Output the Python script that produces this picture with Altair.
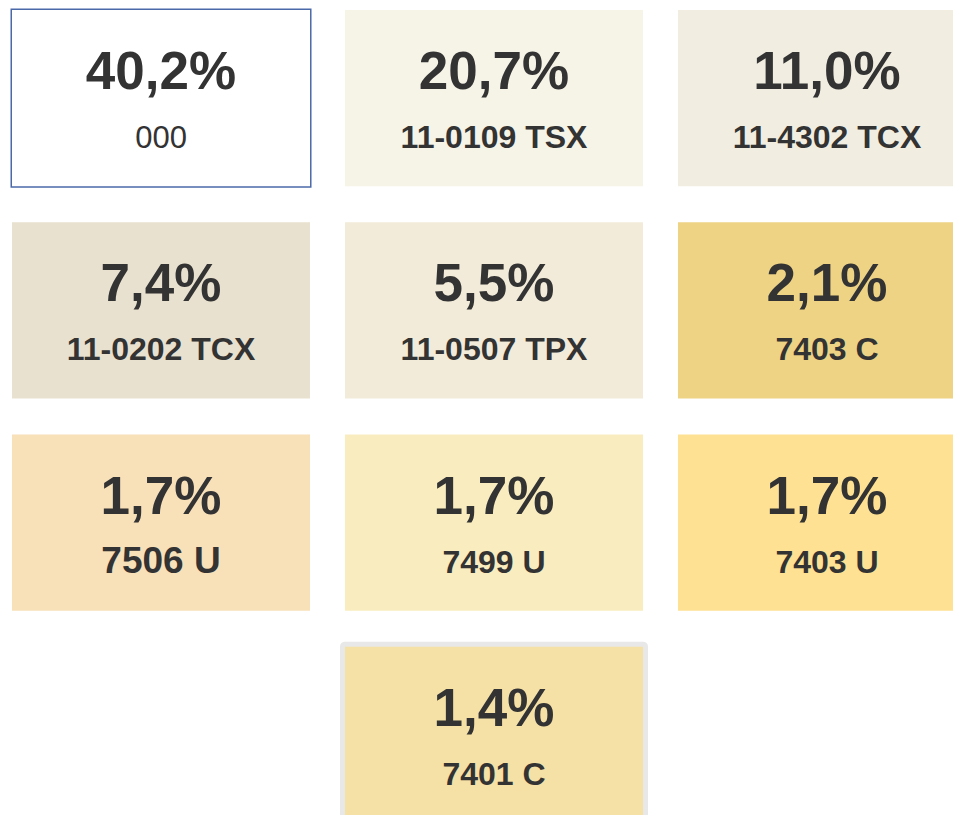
import altair as alt
import pandas as pd

shares = [40.2, 20.7, 11.0, 7.4, 5.5, 2.1, 1.7, 1.7, 1.7, 1.4]
codes = ["000", "11-0109 TSX", "11-4302 TCX", "11-0202 TCX", "11-0507 TPX",
         "7403 C", "7506 U", "7499 U", "7403 U", "7401 C"]
fills = ["#ffffff", "#f6f3e7", "#f1eee1", "#e9e1cf", "#f2ebd9",
         "#eed385", "#f8e0b9", "#f9ecbf", "#fee192", "#f5e0a5"]
cols = [0, 1, 2, 0, 1, 2, 0, 1, 2, 1]
rows = [0, 0, 0, 1, 1, 1, 2, 2, 2, 3]
label_sizes = [31, 32, 32, 32, 32, 32, 37, 32, 32, 32]

df = pd.DataFrame({
    "idx": list(range(len(shares))),
    "share": [f"{v:.1f}".replace(".", ",") + "%" for v in shares],
    "code": codes,
    "fill": fills,
    "col": cols,
    "row": rows,
    "lsize": label_sizes,
})

FONT = "Liberation Sans, Arial, Helvetica, sans-serif"
TXT = "#333333"

xs = alt.X("col:O", axis=None, scale=alt.Scale(range=[0, 964], paddingInner=0.105, paddingOuter=0))
ys = alt.Y("row:O", axis=None, scale=alt.Scale(range=[0, 813], paddingInner=0.169, paddingOuter=0))

base = alt.Chart(df).encode(x=xs, y=ys)

gray_frame = base.transform_filter("datum.idx == 9").mark_rect(
    fill="#e8e8e8", stroke="#e8e8e8", strokeWidth=10, strokeJoin="round"
)
blue_frame = base.transform_filter("datum.idx == 0").mark_rect(
    fill="#4a69a8", stroke="#4a69a8", strokeWidth=3
)
tiles = base.mark_rect().encode(fill=alt.Fill("fill:N", scale=None))

pct = base.mark_text(
    font=FONT, fontWeight="bold", fontSize=53, color=TXT,
    align="center", baseline="alphabetic", dy=-9
).encode(text="share:N")

lab_plain = base.transform_filter("datum.idx == 0").mark_text(
    font=FONT, fontWeight="normal", color=TXT,
    align="center", baseline="alphabetic", dy=50
).encode(text="code:N", size=alt.Size("lsize:Q", scale=None))

lab_bold = base.transform_filter("datum.idx != 0").mark_text(
    font=FONT, fontWeight="bold", color=TXT,
    align="center", baseline="alphabetic", dy=50
).encode(text="code:N", size=alt.Size("lsize:Q", scale=None))

chart = alt.layer(gray_frame, blue_frame, tiles, pct, lab_plain, lab_bold).properties(
    width=941, height=805,
    autosize=alt.AutoSizeParams(type="none"),
    padding={"left": 4, "top": 2, "right": 0, "bottom": 0},
).configure_view(stroke=None)

chart.save("out.html", embed_options={"renderer": "svg", "actions": False})
